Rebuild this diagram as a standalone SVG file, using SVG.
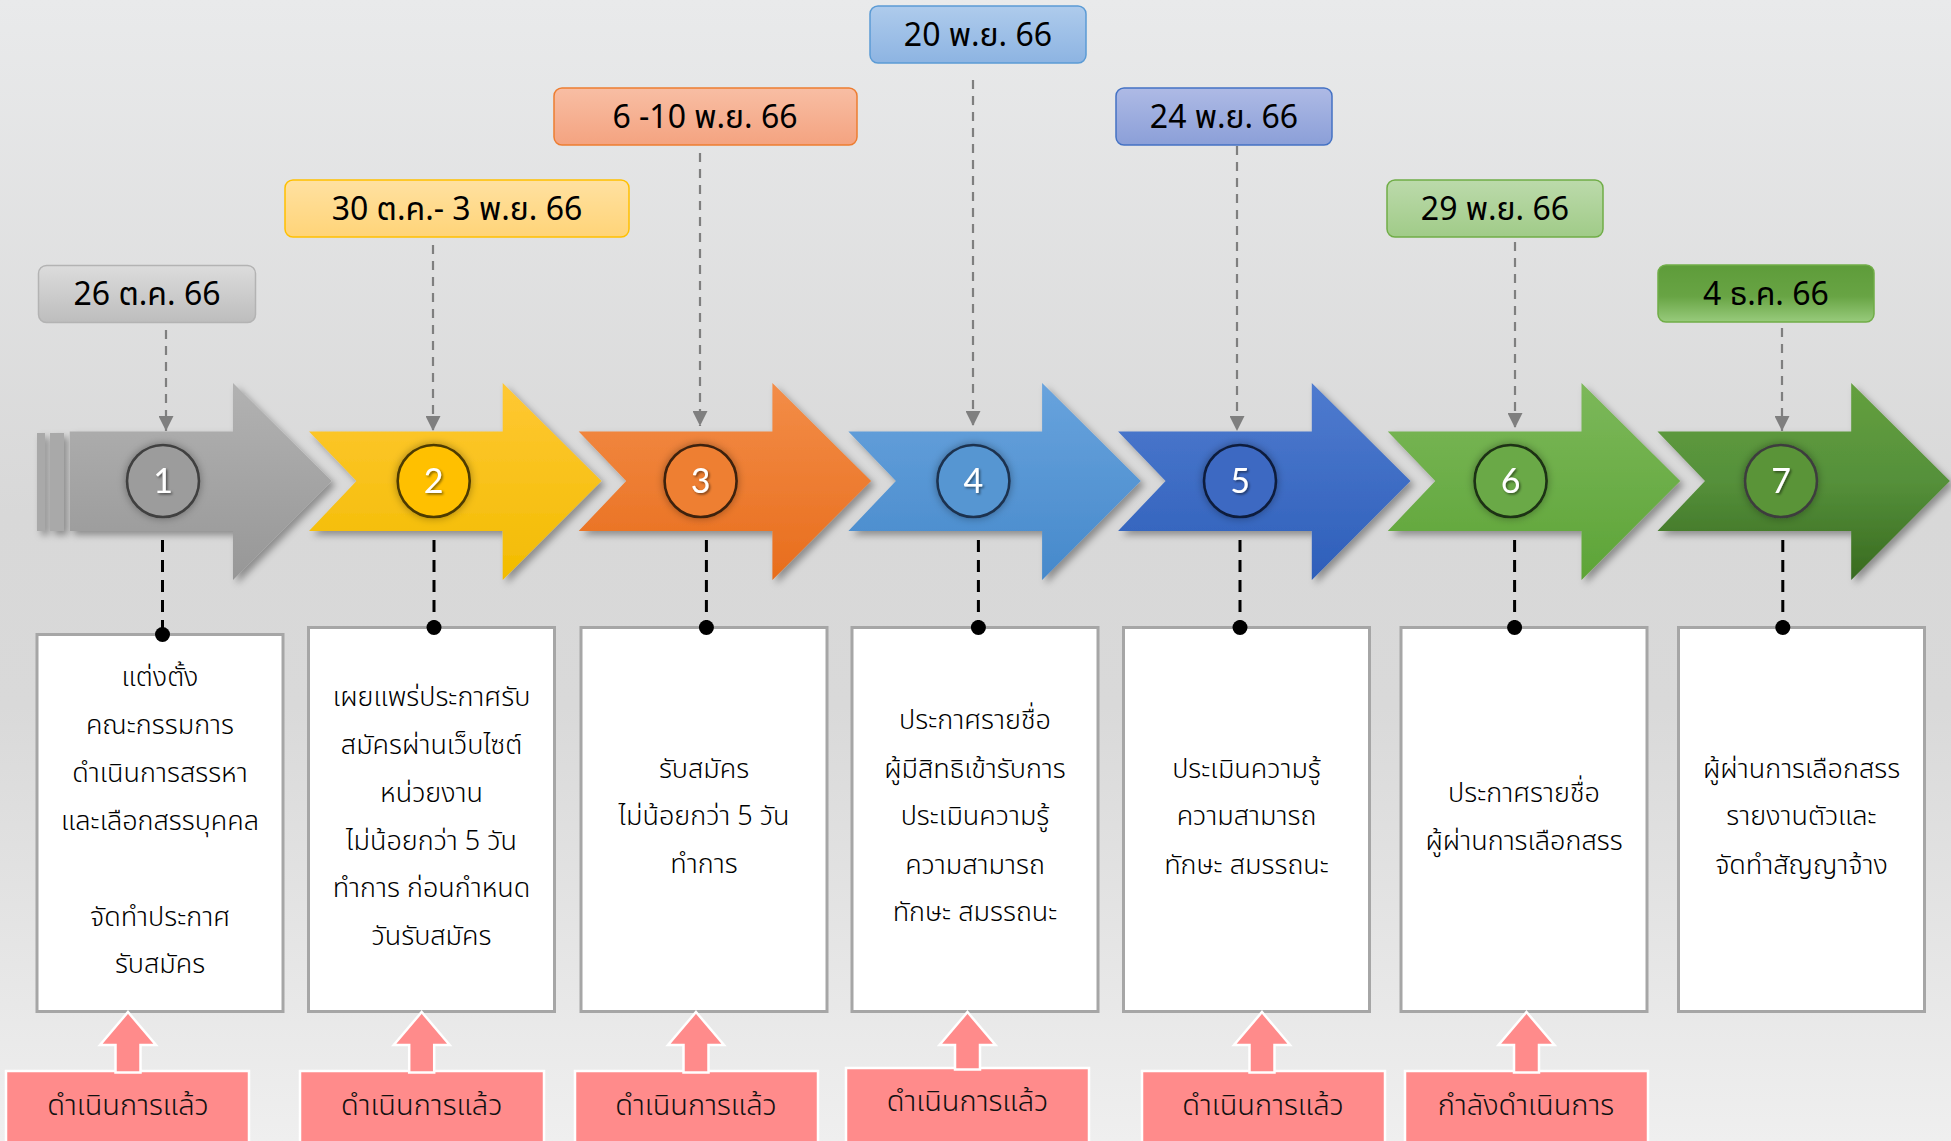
<svg xmlns="http://www.w3.org/2000/svg" width="1951" height="1141" viewBox="0 0 1951 1141">
<defs>
<style>
.th{font-family:"Noto Sans Thai","Noto Sans","Liberation Sans",sans-serif;}
.date{font-size:32px;fill:#000;text-anchor:middle;}
.body{font-size:27px;font-weight:300;fill:#000;text-anchor:middle;}
.stat{font-size:29px;font-weight:300;fill:#111;text-anchor:middle;}
.num{font-family:"Lato","Liberation Sans",sans-serif;font-size:34px;fill:#fff;text-anchor:middle;filter:url(#tsh);}
.dbox{stroke-width:1.5;}
.card{fill:#fff;stroke:#a6a6a6;stroke-width:3;}
.pink{fill:#ff8b8b;stroke:#fff;stroke-width:2.5;}
.gdash{stroke:#7f7f7f;stroke-width:2.2;stroke-dasharray:9 7;fill:none;}
.bdash{stroke:#000;stroke-width:3;stroke-dasharray:12 8;fill:none;}
.circ{stroke-width:2.6;filter:url(#glow);}
</style>
<linearGradient id="bg" x1="0" y1="0" x2="0" y2="1">
<stop offset="0" stop-color="#e9eaeb"/><stop offset="0.45" stop-color="#d8d8d8"/><stop offset="0.62" stop-color="#d9d9d9"/><stop offset="1" stop-color="#efefef"/>
</linearGradient>
<linearGradient id="gGray" x1="0" y1="0" x2="0" y2="1"><stop offset="0" stop-color="#b2b2b2"/><stop offset="1" stop-color="#979797"/></linearGradient>
<linearGradient id="gYel" x1="0" y1="0" x2="0" y2="1"><stop offset="0" stop-color="#ffc834"/><stop offset="1" stop-color="#f2bc00"/></linearGradient>
<linearGradient id="gOra" x1="0" y1="0" x2="0" y2="1"><stop offset="0" stop-color="#f38d48"/><stop offset="1" stop-color="#e86d1c"/></linearGradient>
<linearGradient id="gLb" x1="0" y1="0" x2="0" y2="1"><stop offset="0" stop-color="#68a3dd"/><stop offset="1" stop-color="#4689cb"/></linearGradient>
<linearGradient id="gBl" x1="0" y1="0" x2="0" y2="1"><stop offset="0" stop-color="#4f7bcf"/><stop offset="1" stop-color="#2e5fba"/></linearGradient>
<linearGradient id="gGr" x1="0" y1="0" x2="0" y2="1"><stop offset="0" stop-color="#7cb85a"/><stop offset="1" stop-color="#5da437"/></linearGradient>
<linearGradient id="gDg" x1="0" y1="0" x2="0" y2="1"><stop offset="0" stop-color="#64a03f"/><stop offset="0.5" stop-color="#55903a"/><stop offset="1" stop-color="#386a1f"/></linearGradient>
<linearGradient id="dGray" x1="0" y1="0" x2="0" y2="1"><stop offset="0" stop-color="#dcdcdc"/><stop offset="1" stop-color="#bdbdbd"/></linearGradient>
<linearGradient id="dYel" x1="0" y1="0" x2="0" y2="1"><stop offset="0" stop-color="#ffe1a1"/><stop offset="1" stop-color="#ffd478"/></linearGradient>
<linearGradient id="dOra" x1="0" y1="0" x2="0" y2="1"><stop offset="0" stop-color="#f8beA4"/><stop offset="1" stop-color="#f4a380"/></linearGradient>
<linearGradient id="dLb" x1="0" y1="0" x2="0" y2="1"><stop offset="0" stop-color="#aecbec"/><stop offset="1" stop-color="#8db4e2"/></linearGradient>
<linearGradient id="dBl" x1="0" y1="0" x2="0" y2="1"><stop offset="0" stop-color="#aebae5"/><stop offset="1" stop-color="#8b9fd8"/></linearGradient>
<linearGradient id="dGr" x1="0" y1="0" x2="0" y2="1"><stop offset="0" stop-color="#bcdaab"/><stop offset="1" stop-color="#a0cb88"/></linearGradient>
<linearGradient id="dDg" x1="0" y1="0" x2="0" y2="1"><stop offset="0" stop-color="#5e9c3a"/><stop offset="0.55" stop-color="#68a444"/><stop offset="1" stop-color="#98cb7c"/></linearGradient>
<filter id="sh" x="-10%" y="-10%" width="130%" height="130%"><feDropShadow dx="4" dy="4" stdDeviation="3.5" flood-color="#000" flood-opacity="0.35"/></filter>
<filter id="glow" x="-40%" y="-40%" width="180%" height="180%"><feDropShadow dx="0" dy="0" stdDeviation="4" flood-color="#000" flood-opacity="0.35"/></filter>
<filter id="tsh" x="-20%" y="-20%" width="140%" height="140%"><feDropShadow dx="1.5" dy="1.5" stdDeviation="0.8" flood-color="#000" flood-opacity="0.5"/></filter>
<marker id="ah" markerWidth="15" markerHeight="15" refX="15" refY="7.5" orient="auto" markerUnits="userSpaceOnUse"><path d="M0,0 L15,7.5 L0,15 z" fill="#7f7f7f"/></marker>
</defs>
<rect x="0" y="0" width="1951" height="1141" fill="url(#bg)"/>

<g id="step-1">
<g filter="url(#sh)">
<rect x="37" y="433" width="8" height="98" fill="#a9a9a9"/>
<rect x="50" y="433" width="14" height="98" fill="#a9a9a9"/>
<polygon points="69.7,431.5 233,431.5 233,383 331.7,481 233,580 233,531 69.7,531" fill="url(#gGray)"/>
</g>
<circle class="circ" cx="163" cy="481" r="36" fill="#9c9c9c" stroke="#404040"/>
<text class="num" x="163" y="493">1</text>
</g>
<g id="step-2">
<polygon filter="url(#sh)" points="309,431.5 502.7,431.5 502.7,383 601.4,481 502.7,580 502.7,531 309,531 356.5,481" fill="url(#gYel)"/>
<circle class="circ" cx="433.7" cy="481" r="36" fill="#ffc000" stroke="#4d3b00"/>
<text class="num" x="433.7" y="493">2</text>
</g>
<g id="step-3">
<polygon filter="url(#sh)" points="578.7,431.5 772.4,431.5 772.4,383 871.1,481 772.4,580 772.4,531 578.7,531 626.2,481" fill="url(#gOra)"/>
<circle class="circ" cx="700.6" cy="481" r="36" fill="#ee7f33" stroke="#3d200c"/>
<text class="num" x="700.6" y="493">3</text>
</g>
<g id="step-4">
<polygon filter="url(#sh)" points="848.4,431.5 1042.1,431.5 1042.1,383 1140.8,481 1042.1,580 1042.1,531 848.4,531 895.9,481" fill="url(#gLb)"/>
<circle class="circ" cx="973.4" cy="481" r="36" fill="#5796d2" stroke="#1c3350"/>
<text class="num" x="973.4" y="493">4</text>
</g>
<g id="step-5">
<polygon filter="url(#sh)" points="1118.1,431.5 1311.8,431.5 1311.8,383 1410.5,481 1311.8,580 1311.8,531 1118.1,531 1165.6,481" fill="url(#gBl)"/>
<circle class="circ" cx="1240" cy="481" r="36" fill="#3d69c2" stroke="#0f1d3c"/>
<text class="num" x="1240" y="493">5</text>
</g>
<g id="step-6">
<polygon filter="url(#sh)" points="1387.8,431.5 1581.5,431.5 1581.5,383 1680.2,481 1581.5,580 1581.5,531 1387.8,531 1435.3,481" fill="url(#gGr)"/>
<circle class="circ" cx="1510.6" cy="481" r="36" fill="#6aa946" stroke="#1d3012"/>
<text class="num" x="1510.6" y="493">6</text>
</g>
<g id="step-7">
<polygon filter="url(#sh)" points="1657.5,431.5 1851.2,431.5 1851.2,383 1949.9,481 1851.2,580 1851.2,531 1657.5,531 1705,481" fill="url(#gDg)"/>
<circle class="circ" cx="1781" cy="481" r="36" fill="#5a9437" stroke="#3d3d3d"/>
<text class="num" x="1781" y="493">7</text>
</g>

<g id="date-1"><rect class="dbox" x="38.5" y="265.5" width="217" height="57" rx="8" fill="url(#dGray)" stroke="#b3b3b3"/><text class="th date" x="147" y="305">26 ต.ค. 66</text></g>
<g id="date-2"><rect class="dbox" x="285" y="180" width="344" height="57" rx="8" fill="url(#dYel)" stroke="#ffc000"/><text class="th date" x="457" y="219.5">30 ต.ค.- 3 พ.ย. 66</text></g>
<g id="date-3"><rect class="dbox" x="554" y="88" width="303" height="57" rx="8" fill="url(#dOra)" stroke="#ed7d31"/><text class="th date" x="705" y="127.5">6 -10 พ.ย. 66</text></g>
<g id="date-4"><rect class="dbox" x="870" y="6" width="216" height="57" rx="8" fill="url(#dLb)" stroke="#5b9bd5"/><text class="th date" x="978" y="45.5">20 พ.ย. 66</text></g>
<g id="date-5"><rect class="dbox" x="1116" y="88" width="216" height="57" rx="8" fill="url(#dBl)" stroke="#4472c4"/><text class="th date" x="1224" y="127.5">24 พ.ย. 66</text></g>
<g id="date-6"><rect class="dbox" x="1387" y="180" width="216" height="57" rx="8" fill="url(#dGr)" stroke="#70ad47"/><text class="th date" x="1495" y="219.5">29 พ.ย. 66</text></g>
<g id="date-7"><rect class="dbox" x="1658" y="265" width="216" height="57" rx="8" fill="url(#dDg)" stroke="#70ad47"/><text class="th date" x="1766" y="304.5">4 ธ.ค. 66</text></g>

<g id="connectors">
<line class="gdash" x1="166" y1="330" x2="166" y2="431" marker-end="url(#ah)"/>
<line class="gdash" x1="433" y1="245" x2="433" y2="431" marker-end="url(#ah)"/>
<line class="gdash" x1="700" y1="153" x2="700" y2="426" marker-end="url(#ah)"/>
<line class="gdash" x1="973" y1="80" x2="973" y2="426" marker-end="url(#ah)"/>
<line class="gdash" x1="1237" y1="146" x2="1237" y2="431" marker-end="url(#ah)"/>
<line class="gdash" x1="1515" y1="242" x2="1515" y2="428" marker-end="url(#ah)"/>
<line class="gdash" x1="1782" y1="328" x2="1782" y2="431" marker-end="url(#ah)"/>
<line class="bdash" x1="162.5" y1="540" x2="162.5" y2="634"/>
<line class="bdash" x1="434" y1="540" x2="434" y2="627"/>
<line class="bdash" x1="706.4" y1="540" x2="706.4" y2="627"/>
<line class="bdash" x1="978.4" y1="540" x2="978.4" y2="627"/>
<line class="bdash" x1="1240" y1="540" x2="1240" y2="627"/>
<line class="bdash" x1="1514.6" y1="540" x2="1514.6" y2="627"/>
<line class="bdash" x1="1782.8" y1="540" x2="1782.8" y2="627"/>
</g>

<g id="card-1"><rect class="card" x="37" y="634.5" width="246" height="377"/>
<text class="th body" x="160"><tspan x="160" y="686">แต่งตั้ง</tspan><tspan x="160" y="734">คณะกรรมการ</tspan><tspan x="160" y="782">ดำเนินการสรรหา</tspan><tspan x="160" y="830">และเลือกสรรบุคคล</tspan><tspan x="160" y="926">จัดทำประกาศ</tspan><tspan x="160" y="973">รับสมัคร</tspan></text></g>
<g id="card-2"><rect class="card" x="308.5" y="627.5" width="246" height="384"/>
<text class="th body"><tspan x="431.5" y="706">เผยแพร่ประกาศรับ</tspan><tspan x="431.5" y="754">สมัครผ่านเว็บไซต์</tspan><tspan x="431.5" y="802">หน่วยงาน</tspan><tspan x="431.5" y="850">ไม่น้อยกว่า 5 วัน</tspan><tspan x="431.5" y="897">ทำการ ก่อนกำหนด</tspan><tspan x="431.5" y="945">วันรับสมัคร</tspan></text></g>
<g id="card-3"><rect class="card" x="581" y="627.5" width="246" height="384"/>
<text class="th body"><tspan x="704" y="778">รับสมัคร</tspan><tspan x="704" y="825">ไม่น้อยกว่า 5 วัน</tspan><tspan x="704" y="873">ทำการ</tspan></text></g>
<g id="card-4"><rect class="card" x="852" y="627.5" width="246" height="384"/>
<text class="th body"><tspan x="975" y="729">ประกาศรายชื่อ</tspan><tspan x="975" y="778">ผู้มีสิทธิเข้ารับการ</tspan><tspan x="975" y="825">ประเมินความรู้</tspan><tspan x="975" y="874">ความสามารถ</tspan><tspan x="975" y="921">ทักษะ สมรรถนะ</tspan></text></g>
<g id="card-5"><rect class="card" x="1123.5" y="627.5" width="246" height="384"/>
<text class="th body"><tspan x="1246.5" y="778">ประเมินความรู้</tspan><tspan x="1246.5" y="825">ความสามารถ</tspan><tspan x="1246.5" y="874">ทักษะ สมรรถนะ</tspan></text></g>
<g id="card-6"><rect class="card" x="1401" y="627.5" width="246" height="384"/>
<text class="th body"><tspan x="1524" y="802">ประกาศรายชื่อ</tspan><tspan x="1524" y="850">ผู้ผ่านการเลือกสรร</tspan></text></g>
<g id="card-7"><rect class="card" x="1678.5" y="627.5" width="246" height="384"/>
<text class="th body"><tspan x="1801.5" y="778">ผู้ผ่านการเลือกสรร</tspan><tspan x="1801.5" y="825">รายงานตัวและ</tspan><tspan x="1801.5" y="874">จัดทำสัญญาจ้าง</tspan></text></g>

<g id="dot-markers">
<circle cx="162.5" cy="634.5" r="7.5"/>
<circle cx="434" cy="627.5" r="7.5"/>
<circle cx="706.4" cy="627.5" r="7.5"/>
<circle cx="978.4" cy="627.5" r="7.5"/>
<circle cx="1240" cy="627.5" r="7.5"/>
<circle cx="1514.6" cy="627.5" r="7.5"/>
<circle cx="1782.8" cy="627.5" r="7.5"/>
</g>

<g id="status-1"><rect class="pink" x="6" y="1071" width="243" height="80"/><polygon class="pink" points="128,1012 156,1045 140.5,1045 140.5,1072.5 115.5,1072.5 115.5,1045 100,1045"/><text class="th stat" x="128" y="1115">ดำเนินการแล้ว</text></g>
<g id="status-2"><rect class="pink" x="300" y="1071" width="244" height="80"/><polygon class="pink" points="421.7,1012 449.7,1045 434.2,1045 434.2,1072.5 409.2,1072.5 409.2,1045 393.7,1045"/><text class="th stat" x="421.7" y="1115">ดำเนินการแล้ว</text></g>
<g id="status-3"><rect class="pink" x="575" y="1071" width="243" height="80"/><polygon class="pink" points="696,1012 724,1045 708.5,1045 708.5,1072.5 683.5,1072.5 683.5,1045 668,1045"/><text class="th stat" x="696" y="1115">ดำเนินการแล้ว</text></g>
<g id="status-4"><rect class="pink" x="846" y="1068" width="243" height="80"/><polygon class="pink" points="967.5,1012 995.5,1045 980,1045 980,1069.5 955,1069.5 955,1045 939.5,1045"/><text class="th stat" x="967.5" y="1111">ดำเนินการแล้ว</text></g>
<g id="status-5"><rect class="pink" x="1142" y="1071" width="243" height="80"/><polygon class="pink" points="1262,1012 1290,1045 1274.5,1045 1274.5,1072.5 1249.5,1072.5 1249.5,1045 1234,1045"/><text class="th stat" x="1263" y="1115">ดำเนินการแล้ว</text></g>
<g id="status-6"><rect class="pink" x="1405" y="1071" width="243" height="80"/><polygon class="pink" points="1526.5,1012 1554.5,1045 1539,1045 1539,1072.5 1514,1072.5 1514,1045 1498.5,1045"/><text class="th stat" x="1526" y="1115">กำลังดำเนินการ</text></g>
</svg>
